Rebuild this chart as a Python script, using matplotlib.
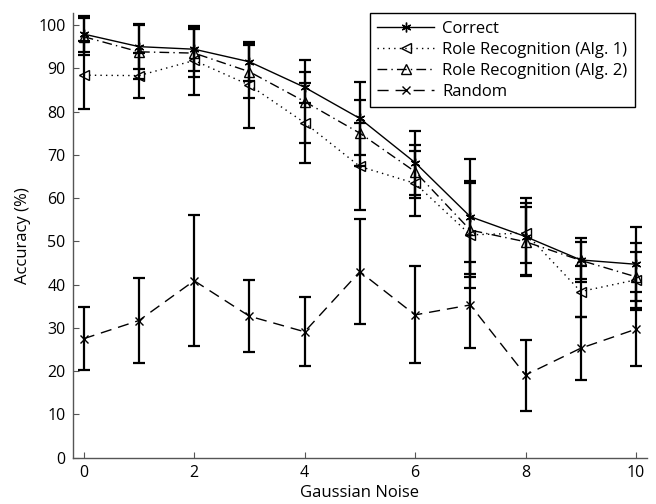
#!/usr/bin/env python
# -*- coding: utf-8 -*-

import matplotlib
matplotlib.use("Agg")
import matplotlib.pyplot as plt
import numpy as np

# -----------------------------------------------------------------------------
# Data
# -----------------------------------------------------------------------------

noise = [0, 1, 2, 3, 4, 5, 6, 7, 8, 9, 10]

correct     = [97.9, 95.0, 94.4, 91.5, 85.6, 78.4, 68.2, 55.7, 51.1, 45.7, 44.7]
correctErr  = [4.2, 5.2, 5.1, 4.5, 3.6, 8.4, 7.4, 13.3, 8.8, 5.0, 8.5]

alg1        = [88.4, 88.3, 91.8, 86.1, 77.4, 67.3, 63.4, 51.5, 51.9, 38.4, 41.1]
alg1Err     = [7.9, 5.2, 8.0, 9.8, 9.2, 10.1, 7.5, 12.4, 7.0, 5.9, 6.5]

alg2        = [97.3, 93.8, 93.5, 89.2, 82.3, 75.0, 66.1, 52.6, 49.9, 45.6, 41.8]
alg2Err     = [4.2, 6.3, 5.6, 6.1, 9.6, 7.7, 6.2, 10.8, 8.0, 4.3, 7.7]

rand        = [27.5, 31.7, 40.9, 32.7, 29.1, 43.0, 33.0, 35.3, 19.1, 25.3, 29.7]
randErr     = [7.3, 9.8, 15.2, 8.3, 8.0, 12.1, 11.2, 9.9, 8.2, 7.3, 8.5]

labels = ["Correct", "Role Recognition (Alg. 1)",
          "Role Recognition (Alg. 2)", "Random"]

# -----------------------------------------------------------------------------
# Plot
# -----------------------------------------------------------------------------

plt.rcParams["font.family"] = ["Open Sans", "DejaVu Sans"]
plt.rcParams["font.size"] = 11.5

fig = plt.figure(figsize = (6.56, 5.04), dpi = 100)
ax = fig.add_axes([0.1108, 0.0919, 0.8755, 0.8817])

kwargsErr = {'fmt': 'none', 'ecolor': 'black', 'elinewidth': 1.6,
             'capsize': 4.5, 'capthick': 1.6}

# (values, errors, linestyle, marker, marker face, marker size)
series = [
    (correct, correctErr, '-',               (6, 2, 0), 'black', 7),
    (alg1,    alg1Err,    (0, (1, 3)),       '<',       'none',  7.5),
    (alg2,    alg2Err,    (0, (7, 3, 1, 3)), '^',       'none',  7.5),
    (rand,    randErr,    (0, (8, 5)),       'x',       'black', 6),
]

for (vals, errs, ls, mk, mfc, ms), lab in zip(series, labels):
    ax.errorbar(noise, vals, yerr = errs, zorder = 2, **kwargsErr)
    ax.plot(noise, vals, linestyle = ls, marker = mk, color = 'black',
            markerfacecolor = mfc, markeredgecolor = 'black',
            markersize = ms, markeredgewidth = 1.0, linewidth = 1.0,
            label = lab, zorder = 3)

ax.set_xlim(-0.2, 10.2)
ax.set_ylim(0, 102.7)
ax.set_xticks(range(0, 11, 2))
ax.set_yticks(range(0, 101, 10))

for side in ["top", "right"]:
    ax.spines[side].set_visible(False)
for side in ["left", "bottom"]:
    ax.spines[side].set_color("#555555")
    ax.spines[side].set_linewidth(1.0)
ax.tick_params(direction = 'in', length = 4, color = "#555555",
               labelsize = 11.5, pad = 5)

ax.set_xlabel("Gaussian Noise", fontsize = 12, labelpad = 3)
ax.set_ylabel("Accuracy (%)", fontsize = 12, labelpad = 5)

leg = ax.legend(loc = 'upper right', bbox_to_anchor = (0.979, 1.0),
                numpoints = 1, handlelength = 3.4, fontsize = 12,
                fancybox = False, framealpha = 1, edgecolor = 'black',
                borderpad = 0.45, labelspacing = 0.3, handletextpad = 0.5,
                borderaxespad = 0)
leg.get_frame().set_linewidth(1.0)

fig.savefig("out.png", dpi = 100)
